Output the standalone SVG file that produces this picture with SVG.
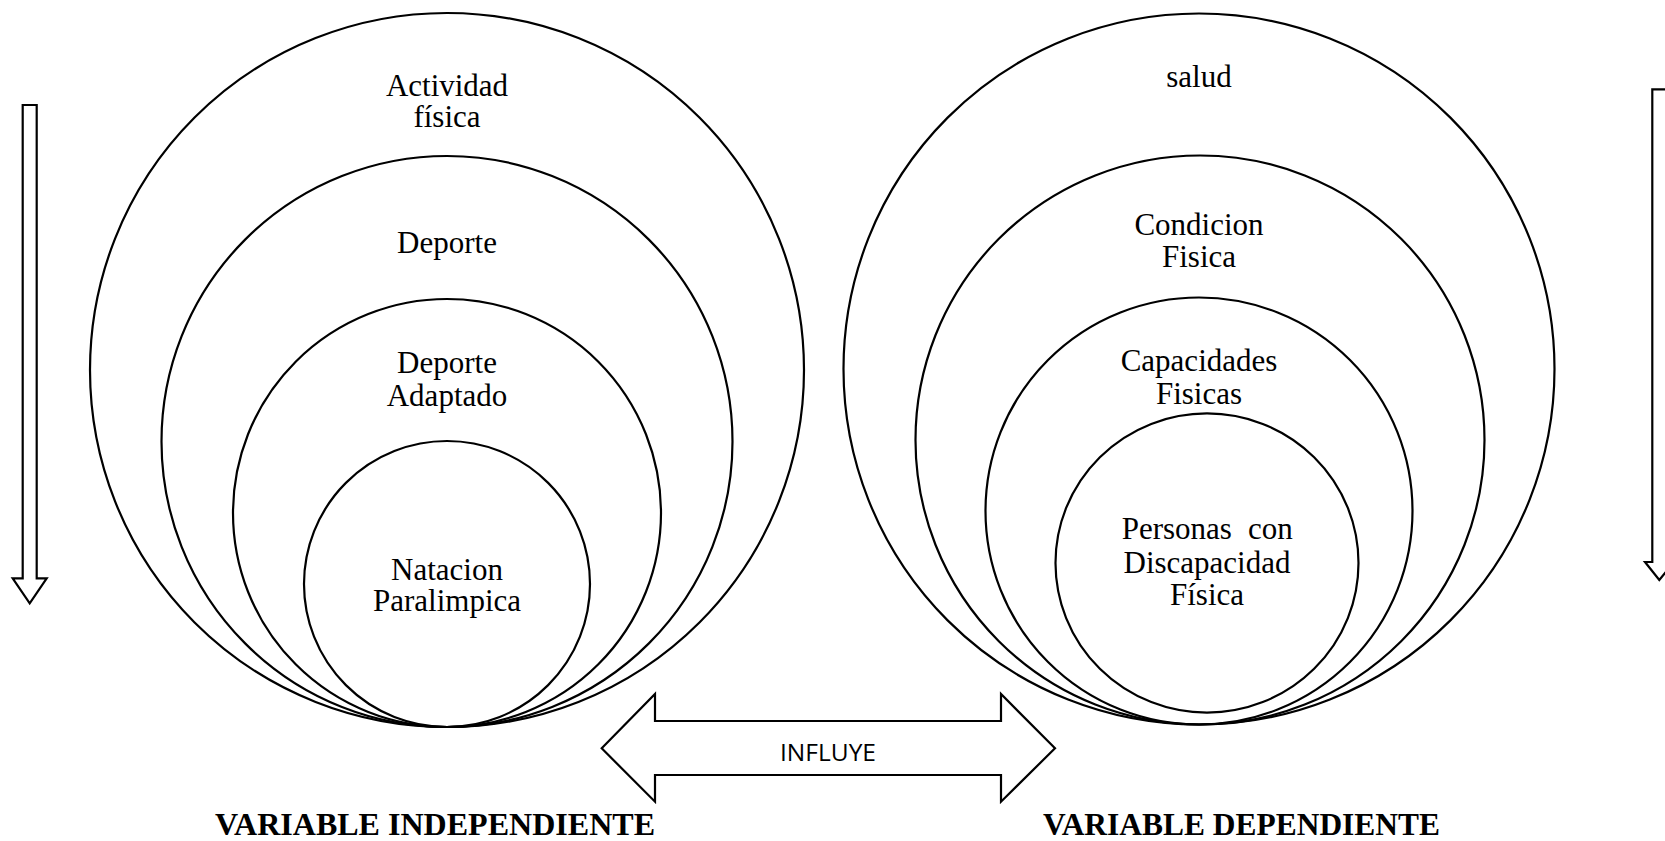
<svg xmlns="http://www.w3.org/2000/svg" width="1665" height="841" viewBox="0 0 1665 841">
<style>
.c{fill:none;stroke:#000;stroke-width:2.2}
.a{fill:#fff;stroke:#000;stroke-width:2.2;stroke-linejoin:miter}
.t{font-family:"Liberation Serif","Times New Roman",serif;font-size:31px;fill:#000;text-anchor:middle}
.b{font-family:"Liberation Serif","Times New Roman",serif;font-size:32px;font-weight:bold;fill:#000}
.s{font-family:"Open Sans","Liberation Sans",sans-serif;font-size:24px;fill:#000;text-anchor:middle}
</style>
<rect width="1665" height="841" fill="#fff"/>
<g id="connectors">
<polygon class="a" points="22.7,105 36.7,105 36.7,578.3 46.7,578.3 29.7,603.3 12.7,578.3 22.7,578.3"/>
<polygon class="a" points="1652.3,89.3 1667,89.3 1667,562 1674,562 1659.3,580 1645,562 1652.3,562"/>
<polygon class="a" points="601.7,748.3 655,694 655,721 1001,721 1001,694 1055,748.3 1001,801.7 1001,775 655,775 655,801.7"/>
<text class="s" x="828" y="761" textLength="96" lengthAdjust="spacingAndGlyphs">INFLUYE</text>
</g>
<g id="actividad-fisica">
<circle class="c" cx="447" cy="370" r="357"/>
<text class="t" x="447" y="95.7">Actividad</text>
<text class="t" x="447" y="126.7">física</text>
</g>
<g id="deporte">
<circle class="c" cx="447" cy="441.5" r="285.5"/>
<text class="t" x="447" y="252.5">Deporte</text>
</g>
<g id="deporte-adaptado">
<circle class="c" cx="447" cy="513" r="214"/>
<text class="t" x="447" y="373">Deporte</text>
<text class="t" x="447" y="405.8">Adaptado</text>
</g>
<g id="natacion-paralimpica">
<circle class="c" cx="447" cy="584" r="143"/>
<text class="t" x="447" y="579.5">Natacion</text>
<text class="t" x="447" y="611">Paralimpica</text>
</g>
<g id="salud">
<circle class="c" cx="1199" cy="369" r="355.5"/>
<text class="t" x="1199" y="87.3">salud</text>
</g>
<g id="condicion-fisica">
<circle class="c" cx="1200" cy="440" r="284.5"/>
<text class="t" x="1199" y="234.5">Condicion</text>
<text class="t" x="1199" y="266.6">Fisica</text>
</g>
<g id="capacidades-fisicas">
<circle class="c" cx="1199" cy="511" r="213.5"/>
<text class="t" x="1199" y="371.4">Capacidades</text>
<text class="t" x="1199" y="403.5">Fisicas</text>
</g>
<g id="personas-discapacidad">
<ellipse class="c" cx="1207" cy="563" rx="151.5" ry="149.6"/>
<text class="t" x="1121.7" y="539.3" style="text-anchor:start">Personas</text>
<text class="t" x="1292.7" y="539.3" style="text-anchor:end">con</text>
<text class="t" x="1207" y="572.5">Discapacidad</text>
<text class="t" x="1207" y="605">Física</text>
</g>
<g id="labels">
<text class="b" x="215" y="835" textLength="440" lengthAdjust="spacingAndGlyphs">VARIABLE INDEPENDIENTE</text>
<text class="b" x="1043" y="835" textLength="397" lengthAdjust="spacingAndGlyphs">VARIABLE DEPENDIENTE</text>
</g>
</svg>
